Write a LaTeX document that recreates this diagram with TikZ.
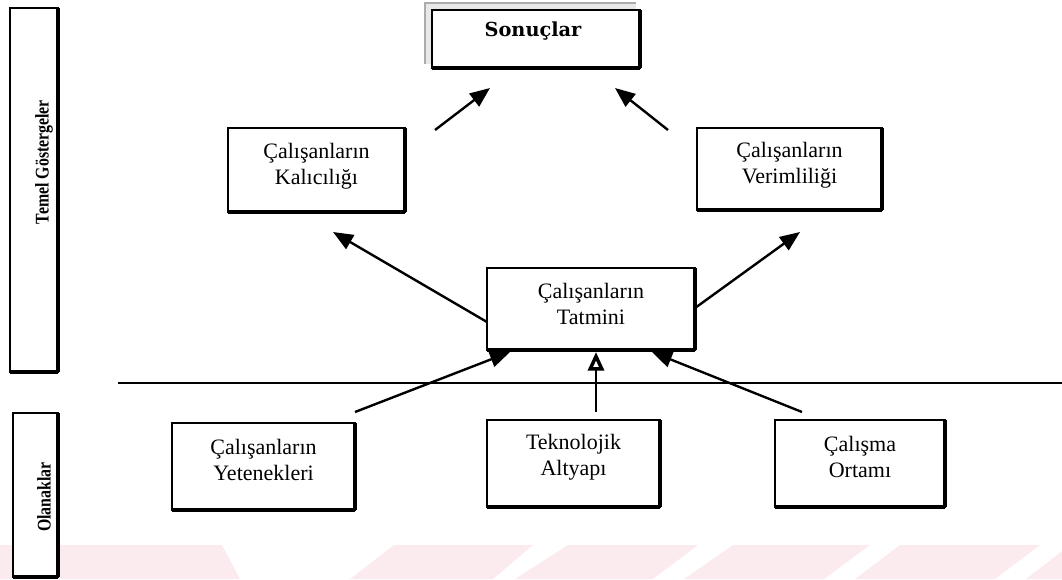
\documentclass[tikz,border=0pt]{standalone}
\usepackage{fontspec}
\setmainfont{Liberation Serif}
\newfontfamily\headfont{DejaVu Serif}
\usetikzlibrary{arrows.meta}
\definecolor{wmpink}{HTML}{FCEBEE}
\begin{document}
\begin{tikzpicture}[x=0.75pt,y=-0.75pt,
  box/.style={draw, line width=1.9pt, outer sep=0pt, inner sep=0pt, fill=white},
  lbl/.style={align=center, inner sep=0pt, font=\fontsize{16.5}{19.5}\selectfont},
  sidelbl/.style={rotate=90, inner sep=0pt, font=\fontsize{14.5}{16}\selectfont\bfseries},
  arr/.style={line width=1.8pt, -{Triangle[length=15pt,width=12pt]}},
  openarr/.style={line width=1.8pt, -{Triangle[open,length=14pt,width=12pt,line width=2.6pt]}},
]
\useasboundingbox (0,0) rectangle (1062,579);

% watermark bands along the bottom edge
\begin{scope}[fill=wmpink]
  \fill (0,545) -- (222,545) -- (240,579) -- (0,579) -- cycle;
  \fill (394,545) -- (533,545) -- (493,579) -- (350,579) -- cycle;
  \fill (568,545) -- (698,545) -- (653,579) -- (515,579) -- cycle;
  \fill (733,545) -- (870,545) -- (824,579) -- (684,579) -- cycle;
  \fill (900,545) -- (1040,545) -- (995,579) -- (855,579) -- cycle;
  \fill (1070,545) -- (1062,545) -- (1062,579) -- (1026,579) -- cycle;
\end{scope}

% side boxes
\node[box, minimum width=36pt, minimum height=273pt] (temel) at (34,190) {};
\node[sidelbl] (temeltxt) at (44,162) {\scalebox{0.82}[1]{Temel Göstergeler}};
\node[box, minimum width=33.75pt, minimum height=123pt] (olan) at (35.5,495) {};
\node[sidelbl] (olantxt) at (44,497) {\scalebox{0.82}[1]{Olanaklar}};

% result box with its shaded offset frame
\fill[gray!18] (425,3) rectangle (636,64);
\draw[gray!65, line width=1pt] (425,64) -- (425,3) -- (636,3);
\node[box, minimum width=156pt, minimum height=43.5pt] (sonuc) at (536,39) {};
\node[inner sep=0pt, font=\headfont\fontsize{14.5}{16}\selectfont\bfseries] (sonuctxt) at (533,31) {Sonuçlar};

% indicator boxes
\node[box, minimum width=132.75pt, minimum height=63pt] (kal) at (316.5,170) {};
\node[lbl] (kaltxt) at ([yshift=3pt]kal.center) {Çalışanların\\Kalıcılığı};
\node[box, minimum width=138.75pt, minimum height=61.5pt] (ver) at (789.5,169) {};
\node[lbl] (vertxt) at ([yshift=3pt]ver.center) {Çalışanların\\Verimliliği};
\node[box, minimum width=156pt, minimum height=61.5pt] (tat) at (591,309) {};
\node[lbl] (tattxt) at ([yshift=4pt]tat.center) {Çalışanların\\Tatmini};

% enabler boxes
\node[box, minimum width=137.25pt, minimum height=65pt] (yet) at (263.5,466.5) {};
\node[lbl] (yettxt) at ([yshift=5pt]yet.center) {Çalışanların\\Yetenekleri};
\node[box, minimum width=129.75pt, minimum height=65pt] (tek) at (573.5,463.5) {};
\node[lbl] (tektxt) at ([yshift=5pt]tek.center) {Teknolojik\\Altyapı};
\node[box, minimum width=127.5pt, minimum height=65pt] (ort) at (860,463.5) {};
\node[lbl] (orttxt) at ([yshift=5pt]ort.center) {Çalışma\\Ortamı};

% heavier lower and right edges of the boxes
\foreach \n in {temel,olan,sonuc,kal,ver,tat,yet,tek,ort}{
  \draw[line width=3.2pt] (\n.south west) -- (\n.south east);
  \draw[line width=2.4pt] (\n.south east) -- (\n.north east);
}

% dividing line between the two levels
\coordinate (divL) at (118,383);
\coordinate (divR) at (1062,383);
\draw[line width=1.4pt] (divL) -- (divR);

% arrow ends
\coordinate (kalTop) at (435,130);
\coordinate (sonL) at (490,88);
\coordinate (verTop) at (668,130);
\coordinate (sonR) at (615,88);
\coordinate (tatL) at (487,322);
\coordinate (kalBot) at (333,232);
\coordinate (tatR) at (695,308);
\coordinate (verBot) at (800,232);
\coordinate (yetTop) at (355,412);
\coordinate (tatBL) at (510,352);
\coordinate (tekTop) at (596,412);
\coordinate (tatBM) at (596,352);
\coordinate (ortTop) at (802,412);
\coordinate (tatBR) at (652,352);

\draw[arr] (kalTop) -- (sonL);
\draw[arr] (verTop) -- (sonR);
\draw[arr] (tatL) -- (kalBot);
\draw[arr] (tatR) -- (verBot);
\draw[arr] (yetTop) -- (tatBL);
\draw[openarr] (tekTop) -- (tatBM);
\draw[arr] (ortTop) -- (tatBR);
\end{tikzpicture}
\end{document}
